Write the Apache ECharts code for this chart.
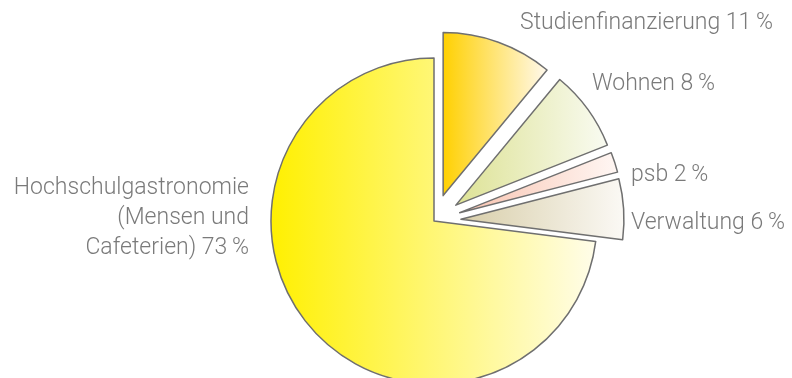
<!DOCTYPE html>
<html>
<head>
<meta charset="utf-8">
<script src="https://cdn.jsdelivr.net/npm/echarts@6/dist/echarts.min.js"></script>
<style>
  html, body { margin: 0; padding: 0; background: #ffffff; }
  #chart { width: 792px; height: 378px; }
</style>
</head>
<body>
<div id="chart"></div>
<script>
// Budget shares (per cent), clockwise from 12 o'clock
const categories = [
  'Studienfinanzierung',
  'Wohnen',
  'psb',
  'Verwaltung',
  'Hochschulgastronomie\n(Mensen und\nCafeterien)'
];
const shares = [11, 8, 2, 6, 73];
// Smaller segments are pulled out of the pie
const exploded = [true, true, true, true, false];

// Horizontal gradient per segment: saturated left edge fading to near white
const gradientStops = [
  ['#FFD000', '#FFF9EE'],
  ['#DDE294', '#F9FBF2'],
  ['#F8C2AE', '#FFF7F4'],
  ['#D8CEA9', '#FBF9F5'],
  ['#FFF000', '#FFFDEA']
];

// Label anchor points [x, y, align]
const labelAnchors = [
  [520, 23, 'left'],
  [592, 84, 'left'],
  [631, 175, 'left'],
  [631, 223, 'left'],
  [249, 218, 'right']
];

const PIE_CENTER = [434, 221];
const PIE_RADIUS = 163;

const chart = echarts.init(document.getElementById('chart'), null, { renderer: 'canvas' });

const sliceData = categories.map(function (name, i) {
  return {
    name: name,
    value: shares[i],
    selected: exploded[i],
    itemStyle: {
      color: new echarts.graphic.LinearGradient(0, 0, 1, 0, [
        { offset: 0, color: gradientStops[i][0] },
        { offset: 1, color: gradientStops[i][1] }
      ])
    }
  };
});

const labelData = categories.map(function (name, i) {
  return { name: name, value: shares[i] };
});

chart.setOption({
  animation: false,
  backgroundColor: '#ffffff',
  series: [
    {
      // the segments
      type: 'pie',
      center: PIE_CENTER,
      radius: PIE_RADIUS,
      startAngle: 90,
      clockwise: true,
      selectedMode: 'multiple',
      selectedOffset: 27,
      emphasis: { disabled: true },
      itemStyle: {
        borderColor: '#6f6f6f',
        borderWidth: 1.5
      },
      label: { show: false },
      labelLine: { show: false },
      data: sliceData
    },
    {
      // text labels, laid out on an unfilled copy of the pie
      type: 'pie',
      center: PIE_CENTER,
      radius: PIE_RADIUS,
      startAngle: 90,
      clockwise: true,
      silent: true,
      selectedMode: false,
      avoidLabelOverlap: false,
      emphasis: { disabled: true },
      itemStyle: { color: 'rgba(0,0,0,0)', borderWidth: 0 },
      label: {
        show: true,
        position: 'outside',
        color: '#7a7a7a',
        fontFamily: 'Roboto',
        fontWeight: 300,
        fontSize: 23,
        lineHeight: 30,
        formatter: function (p) {
          return p.name + ' ' + p.value + '\u2009%';
        }
      },
      labelLine: { show: false },
      labelLayout: function (params) {
        const a = labelAnchors[params.dataIndex];
        return { x: a[0], y: a[1], align: a[2], verticalAlign: 'middle' };
      },
      data: labelData
    }
  ]
});
</script>
</body>
</html>
